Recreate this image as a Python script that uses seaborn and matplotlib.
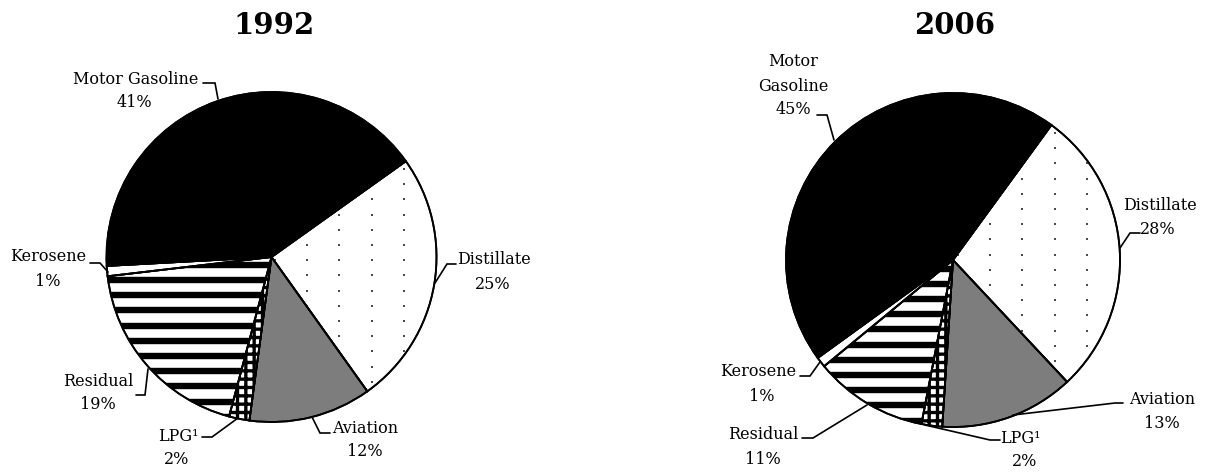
import numpy as np
import matplotlib
matplotlib.use('Agg')
import matplotlib.pyplot as plt
from matplotlib.patches import PathPatch
import seaborn as sns

# slice order (clockwise, starting at the Motor Gasoline / Distillate boundary)
fuels = ['Distillate', 'Aviation', 'LPG', 'Residual', 'Kerosene', 'Motor Gasoline']
share_1992 = [25, 12, 2, 19, 1, 41]
share_2006 = [28, 13, 2, 11, 1, 45]
years = ['1992', '2006']

sns.set_theme(style='white')
plt.rcParams['font.family'] = ['DejaVu Serif', 'DejaVu Sans']
plt.rcParams['hatch.linewidth'] = 2.4
plt.rcParams['hatch.color'] = 'black'

fills = ['white', '#7d7d7d', 'white', 'white', 'white', 'black']
hatches = [None, None, '++', None, None, None]

# layout (in pixels of the 1207x473 picture)
charts = [
    dict(share=share_1992, year='1992', ax_px=(0, 603), cx=271.5, cy=257, r=165,
         start=35.5, title=(274, 22), dot0=(307, 245), stripe0=280,
         labels=[
             [('Distillate', 494, 258), ('25%', 493, 283)],
             [('Aviation', 365, 427), ('12%', 365, 450)],
             [('LPG\u00b9', 178, 435), ('2%', 177, 458)],
             [('Residual', 98, 380), ('19%', 98, 403)],
             [('Kerosene', 48, 255), ('1%', 48, 280)],
             [('Motor Gasoline', 136, 78), ('41%', 134, 101)],
         ],
         leaders=[
             [(456, 264), (447, 264), (435, 283)],
             [(330, 433), (320, 433), (312, 417)],
             [(202, 437), (212, 437), (238, 418)],
             [(136, 395), (145, 395), (148, 369)],
             [(90, 263), (100, 263), (108, 272)],
             [(203, 83), (215, 83), (218, 99)],
         ]),
    dict(share=share_2006, year='2006', ax_px=(603, 1207), cx=953, cy=260, r=167,
         start=53.9, title=(955, 23), dot0=(990, 133), stripe0=375,
         labels=[
             [('Distillate', 1160, 204), ('28%', 1158, 228)],
             [('Aviation', 1162, 398), ('13%', 1162, 422)],
             [('LPG\u00b9', 1020, 437), ('2%', 1025, 460)],
             [('Residual', 763, 433), ('11%', 763, 458)],
             [('Kerosene', 758, 370), ('1%', 762, 395)],
             [('Motor', 793, 60), ('Gasoline', 793, 85), ('45%', 793, 108)],
         ],
         leaders=[
             [(1140, 233), (1130, 233), (1120, 248)],
             [(1123, 403), (1115, 403), (1013, 415)],
             [(1000, 440), (990, 440), (925, 425)],
             [(802, 438), (813, 438), (867, 405)],
             [(800, 376), (810, 376), (820, 362)],
             [(817, 115), (827, 115), (834, 140)],
         ]),
]

W, H = 1207, 473
fig = plt.figure(figsize=(W / 100, H / 100), dpi=100)
fig.patch.set_facecolor('white')

for c in charts:
    x0, x1 = c['ax_px']
    ax = fig.add_axes([x0 / W, 0, (x1 - x0) / W, 1])
    cx, cy, r = c['cx'], c['cy'], c['r']

    def to_data(px, py):
        return (np.asarray(px) - cx) / r, (cy - np.asarray(py)) / r

    wedges, _ = ax.pie(c['share'], colors=fills, startangle=c['start'],
                       counterclock=False, radius=1, center=(0, 0),
                       wedgeprops=dict(edgecolor='black', linewidth=1.3))
    for w, h in zip(wedges, hatches):
        w.set_zorder(1)
        if h:
            w.set_hatch(h)

    # dotted texture on Distillate
    gx = c['dot0'][0] + 32.4 * np.arange(-12, 12)
    gy = c['dot0'][1] + 15.2 * np.arange(-25, 25)
    GX, GY = np.meshgrid(gx, gy)
    dx, dy = to_data(GX.ravel(), GY.ravel())
    dots = ax.scatter(dx, dy, marker='s', s=3.2, color='#4a4a4a', linewidths=0, zorder=2)
    dots.set_clip_path(wedges[0])

    # thick horizontal stripes on Residual
    sy = c['stripe0'] + 15.2 * np.arange(-25, 25)
    _, sdy = to_data(np.zeros_like(sy), sy)
    stripes = ax.hlines(sdy, -1.2, 1.2, color='black', linewidth=4.6, zorder=2)
    stripes.set_clip_path(wedges[3])

    # outlines over the textures
    for w in wedges:
        ax.add_patch(PathPatch(w.get_path(), transform=w.get_transform(), fill=False,
                               edgecolor='black', linewidth=1.3, zorder=3))

    ax.set_xlim(*to_data(np.array([x0, x1]), 0)[0])
    ax.set_ylim((cy - H) / r, cy / r)
    ax.set_aspect('auto')
    ax.axis('off')

    tx, ty = to_data(c['title'][0], c['title'][1] + 11.5)
    ax.text(tx, ty, c['year'], ha='center', va='baseline', fontsize=21,
            fontweight='bold', color='black')

    for lines in c['labels']:
        for txt, px, py in lines:
            lx, ly = to_data(px, py + 6)
            ax.text(lx, ly, txt, ha='center', va='baseline', fontsize=11.5,
                    color='black')
    for pts in c['leaders']:
        px, py = zip(*pts)
        lx, ly = to_data(px, py)
        ax.plot(lx, ly, color='black', linewidth=1.2, solid_joinstyle='miter')

fig.savefig('out.png', dpi=100, facecolor='white')
